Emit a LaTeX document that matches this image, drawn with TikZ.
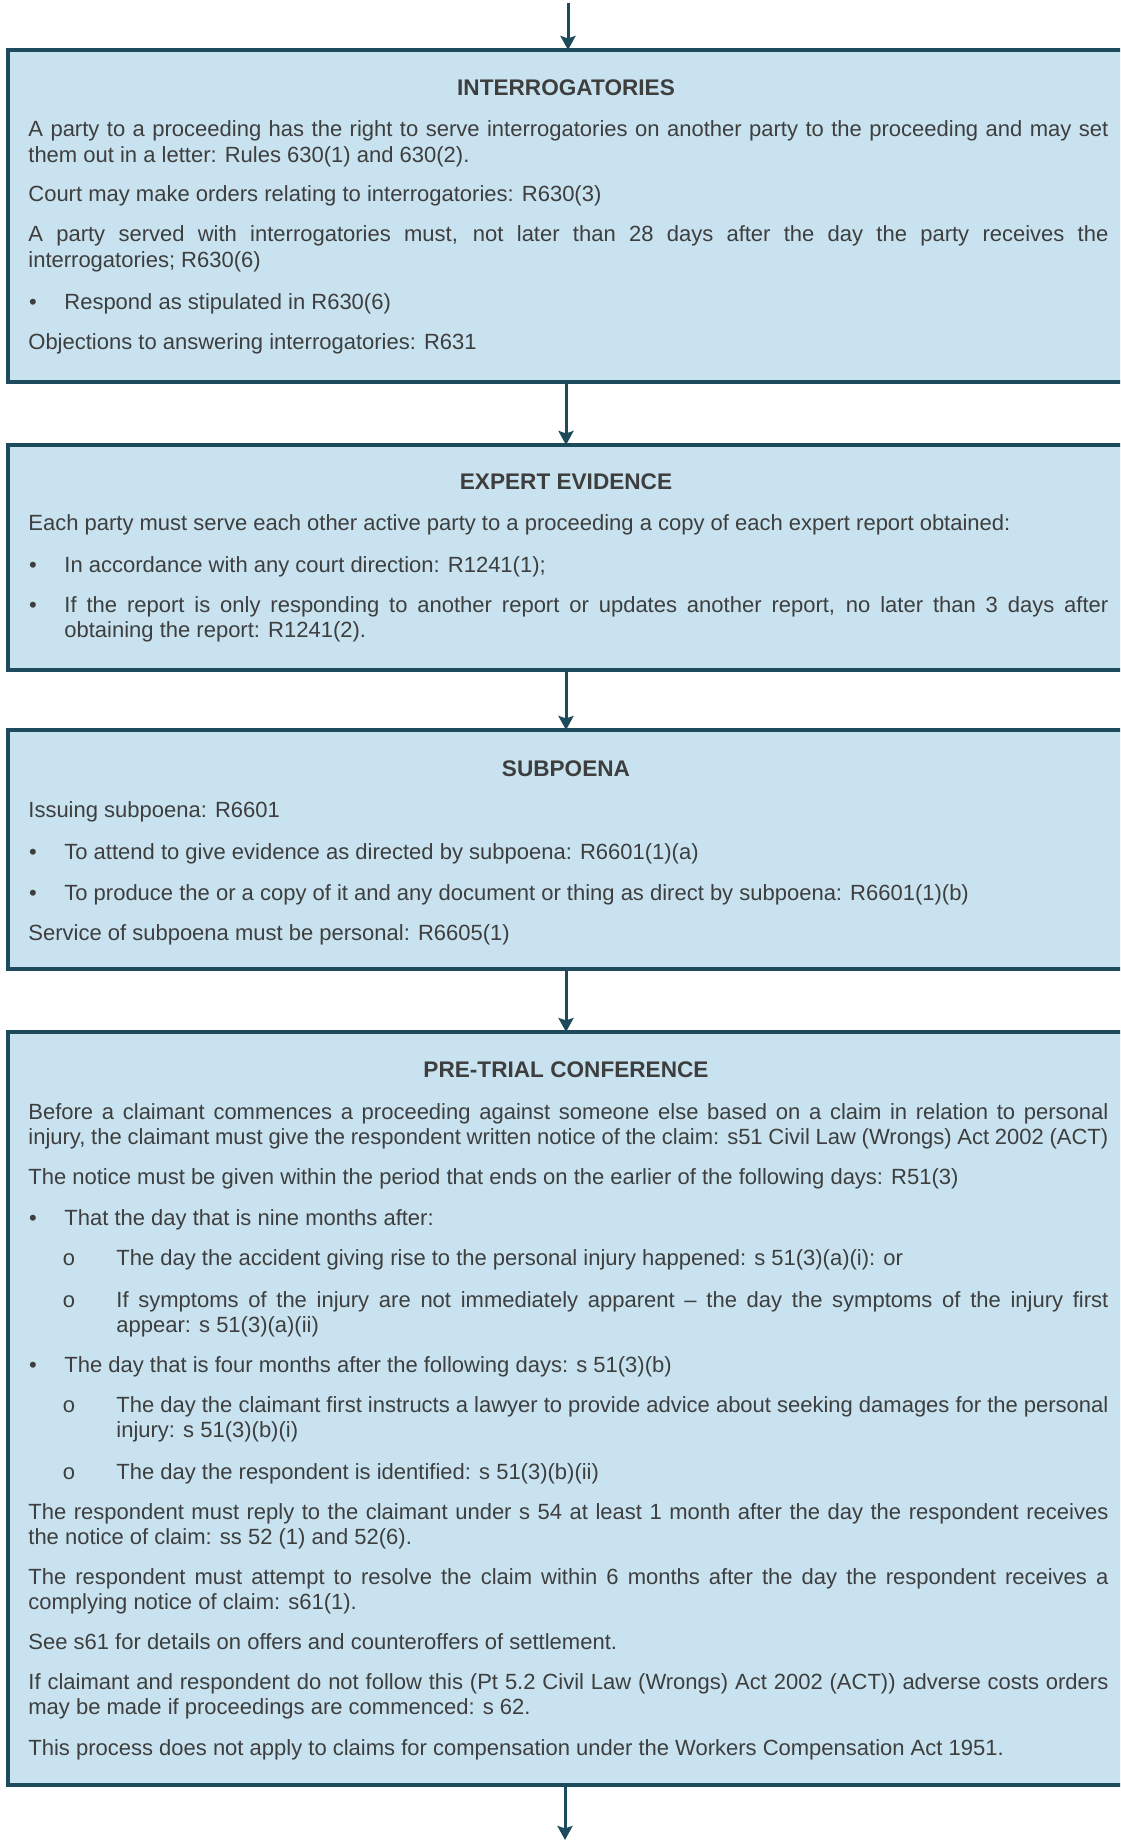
\documentclass[tikz,border=0pt]{standalone}
\usepackage{fontspec}
\setmainfont{Liberation Sans}
\newfontfamily\monofnt{Liberation Mono}
\usetikzlibrary{arrows.meta,calc}
\definecolor{boxfill}{HTML}{C8E3EF}
\definecolor{boxline}{HTML}{1D4B5B}
\definecolor{txt}{HTML}{3E3E3E}
\begin{document}
\begin{tikzpicture}[x=0.5pt,y=-0.5pt,
  box/.style={draw=boxline, fill=boxfill, line width=2pt, rectangle, anchor=north west, inner sep=0pt, outer sep=0pt, minimum width=561pt},
  para/.style={anchor=base west, inner sep=0pt, text width=540pt, align=justify, font=\fontsize{11}{12.75}\selectfont, text=txt},
  bpara/.style={para, text width=522pt},
  spara/.style={para, text width=496pt},
  ttl/.style={anchor=base, inner sep=0pt, font=\bfseries\fontsize{11.3}{12.75}\selectfont, text=txt},
  dotmark/.style={anchor=base, inner sep=0pt, font=\fontsize{11}{12.75}\selectfont, text=txt},
  circmark/.style={anchor=base, inner sep=0pt, font=\monofnt\fontsize{11}{12.75}\selectfont, text=txt},
  flow/.style={draw=boxline, line width=1.5pt, -{Stealth[length=7pt,width=7.5pt,inset=1.2pt]}}
]
\useasboundingbox (0,0) rectangle (1120,1840);
\clip (0,0) rectangle (1120,1840);

% boxes
\node[box, minimum height=166pt] (b1) at (8,50) {};
\node[box, minimum height=112.5pt] (b2) at (8,445) {};
\node[box, minimum height=119.5pt] (b3) at (8,730) {};
\node[box, minimum height=376.5pt] (b4) at (8,1032) {};

% connectors
\coordinate (topstart) at (568,3);
\coordinate (ax) at (566,0);
\coordinate (botend) at (565,1840);
\draw[flow] (topstart) -- (topstart |- b1.north);
\draw[flow] (b1.south -| ax) -- (b2.north -| ax);
\draw[flow] (b2.south -| ax) -- (b3.north -| ax);
\draw[flow] (b3.south -| ax) -- (b4.north -| ax);
\draw[flow] (b4.south -| botend) -- (botend);

% box 1
\node[ttl] (t1) at (566,96) {INTERROGATORIES};
\node[para] (p11) at (28,137) {A party to a proceeding has the right to serve interrogatories on another party to the proceeding and may set\linebreak them out in a letter: Rules 630(1) and 630(2).};
\node[para] (p12) at (28,202) {Court may make orders relating to interrogatories: R630(3)};
\node[para] (p13) at (28,242) {A party served with interrogatories must, not later than 28 days after the day the party receives the\linebreak interrogatories; R630(6)};
\node[dotmark] (d11) at (33,310) {•};
\node[bpara] (p14) at (64,310) {Respond as stipulated in R630(6)};
\node[para] (p15) at (28,350) {Objections to answering interrogatories: R631};

% box 2
\node[ttl] (t2) at (566,489) {EXPERT EVIDENCE};
\node[para] (p21) at (28,530) {Each party must serve each other active party to a proceeding a copy of each expert report obtained:};
\node[dotmark] (d21) at (33,572) {•};
\node[bpara] (p22) at (64,572) {In accordance with any court direction: R1241(1);};
\node[dotmark] (d22) at (33,612) {•};
\node[bpara] (p23) at (64,612) {If the report is only responding to another report or updates another report, no later than 3 days after\linebreak obtaining the report: R1241(2).};

% box 3
\node[ttl] (t3) at (566,776) {SUBPOENA};
\node[para] (p31) at (28,817) {Issuing subpoena: R6601};
\node[dotmark] (d31) at (33,859) {•};
\node[bpara] (p32) at (64,859) {To attend to give evidence as directed by subpoena: R6601(1)(a)};
\node[dotmark] (d32) at (33,900) {•};
\node[bpara] (p33) at (64,900) {To produce the or a copy of it and any document or thing as direct by subpoena: R6601(1)(b)};
\node[para] (p34) at (28,940) {Service of subpoena must be personal: R6605(1)};

% box 4
\node[ttl] (t4) at (566,1077) {PRE-TRIAL CONFERENCE};
\node[para] (p41) at (28,1119) {Before a claimant commences a proceeding against someone else based on a claim in relation to personal\linebreak injury, the claimant must give the respondent written notice of the claim: s51 Civil Law (Wrongs) Act 2002 (ACT)};
\node[para] (p42) at (28,1184) {The notice must be given within the period that ends on the earlier of the following days: R51(3)};
\node[dotmark] (d41) at (33,1225) {•};
\node[bpara] (p43) at (64,1225) {That the day that is nine months after:};
\node[circmark] (c41) at (69,1265) {o};
\node[spara] (p44) at (116,1265) {The day the accident giving rise to the personal injury happened: s 51(3)(a)(i): or};
\node[circmark] (c42) at (69,1307) {o};
\node[spara] (p45) at (116,1307) {If symptoms of the injury are not immediately apparent – the day the symptoms of the injury first\linebreak appear: s 51(3)(a)(ii)};
\node[dotmark] (d42) at (33,1372) {•};
\node[bpara] (p46) at (64,1372) {The day that is four months after the following days: s 51(3)(b)};
\node[circmark] (c43) at (69,1412) {o};
\node[spara] (p47) at (116,1412) {The day the claimant first instructs a lawyer to provide advice about seeking damages for the personal\linebreak injury: s 51(3)(b)(i)};
\node[circmark] (c44) at (69,1479) {o};
\node[spara] (p48) at (116,1479) {The day the respondent is identified: s 51(3)(b)(ii)};
\node[para] (p49) at (28,1519) {The respondent must reply to the claimant under s 54 at least 1 month after the day the respondent receives\linebreak the notice of claim: ss 52 (1) and 52(6).};
\node[para] (p410) at (28,1584) {The respondent must attempt to resolve the claim within 6 months after the day the respondent receives a\linebreak complying notice of claim: s61(1).};
\node[para] (p411) at (28,1649) {See s61 for details on offers and counteroffers of settlement.};
\node[para] (p412) at (28,1689) {If claimant and respondent do not follow this (Pt 5.2 Civil Law (Wrongs) Act 2002 (ACT)) adverse costs orders\linebreak may be made if proceedings are commenced: s 62.};
\node[para] (p413) at (28,1755) {This process does not apply to claims for compensation under the Workers Compensation Act 1951.};
\end{tikzpicture}
\end{document}
